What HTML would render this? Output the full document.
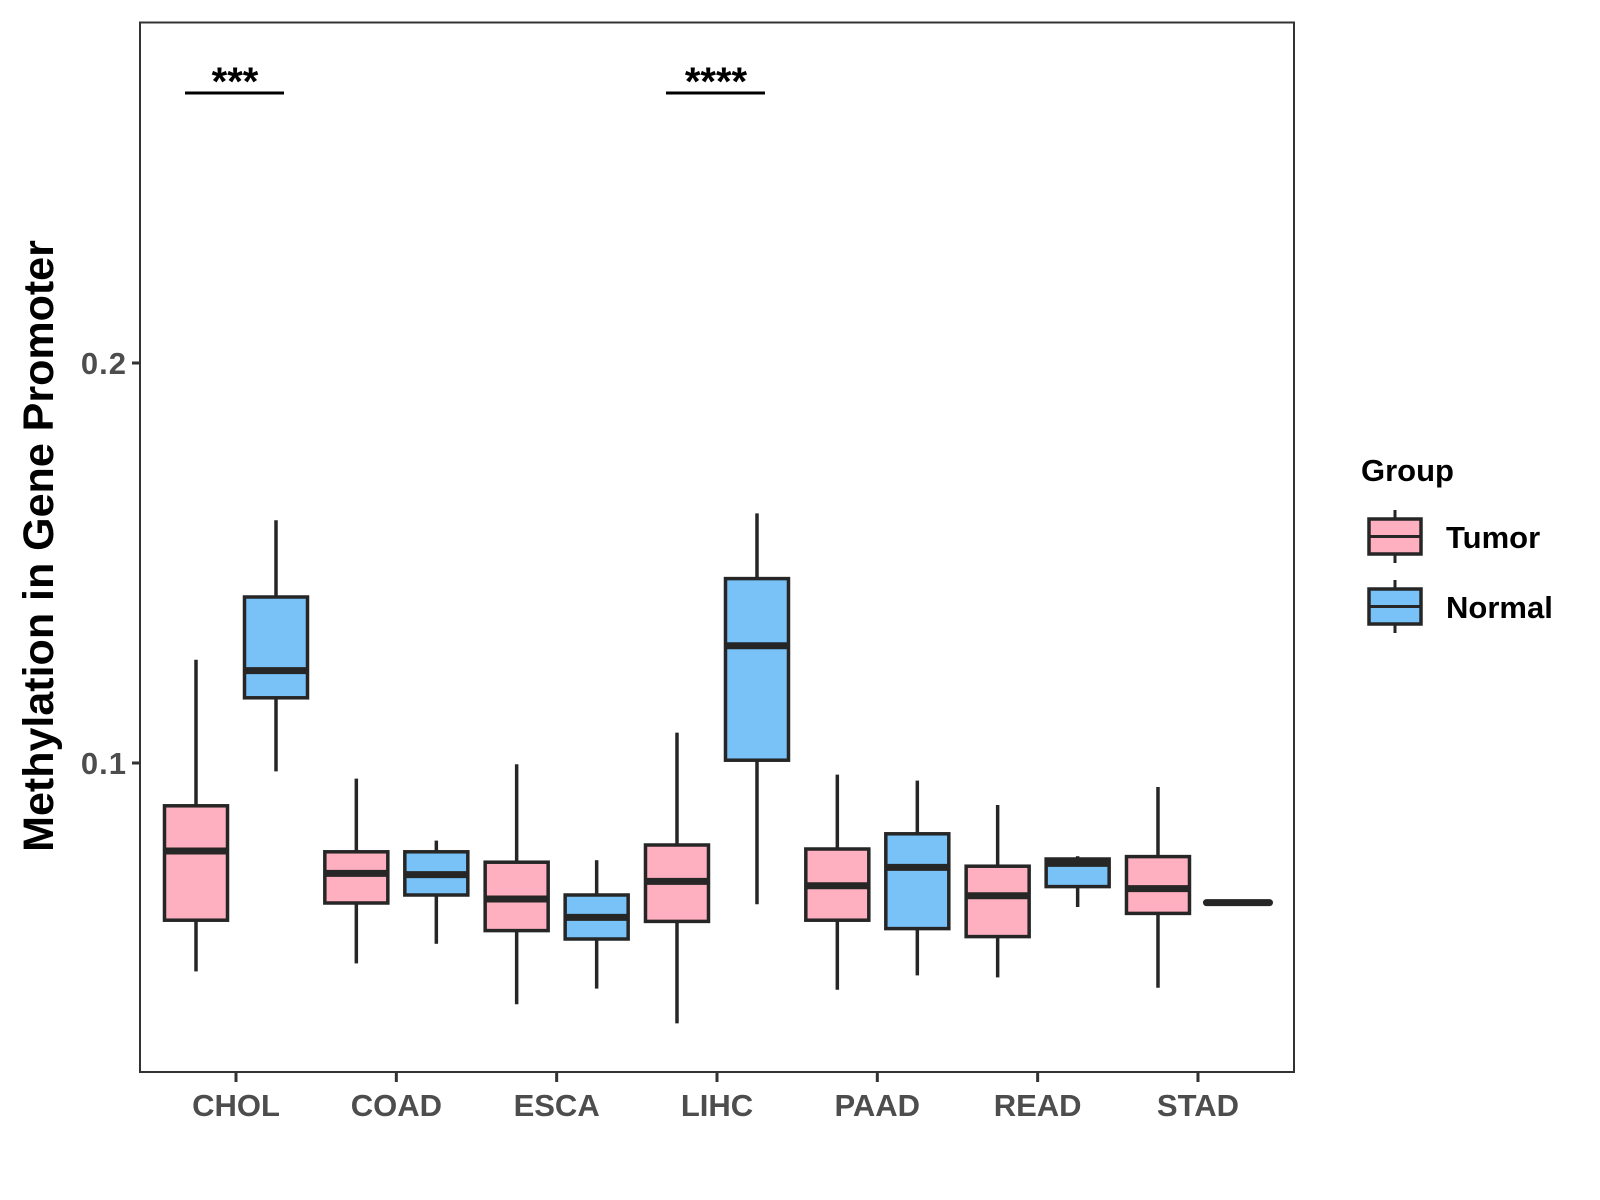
<!DOCTYPE html>
<html><head><meta charset="utf-8"><style>body{margin:0;background:#fff}svg{display:block;font-family:"Liberation Sans",Arial,sans-serif}</style></head>
<body>
<svg id="c" width="1600" height="1200" xmlns="http://www.w3.org/2000/svg">
<rect x="140" y="22.5" width="1154" height="1049.5" fill="#fff" stroke="#333" stroke-width="2"/>
<g id="marks"></g>
<text transform="translate(53,546) rotate(-90)" text-anchor="middle" font-size="43" font-weight="bold" fill="#000">Methylation in Gene Promoter</text>
<text x="1361" y="481" font-size="31" font-weight="bold" fill="#000">Group</text>
</svg>
<script>
const categories=["CHOL","COAD","ESCA","LIHC","PAAD","READ","STAD"];
const groups=["Tumor","Normal"];
const colors=["#FFB0C0","#78C2F8"];
// [low, q1, median, q3, high]
const tumorStats=[[0.0479,0.0607,0.078,0.0893,0.1258],[0.0499,0.065,0.0724,0.0778,0.0961],[0.0397,0.0581,0.066,0.0752,0.0997],[0.0349,0.0604,0.0704,0.0795,0.1076],[0.0433,0.0607,0.0693,0.0785,0.0971],[0.0464,0.0566,0.0668,0.0742,0.0895],[0.0438,0.0624,0.0686,0.0766,0.0940]];
const normalStats=[[0.0979,0.1163,0.1231,0.1415,0.1607],[0.0548,0.067,0.0721,0.0778,0.0806],[0.0436,0.056,0.0614,0.067,0.0757],[0.0647,0.1007,0.1293,0.1461,0.1624],[0.0469,0.0586,0.0739,0.0823,0.0956],[0.064,0.0691,0.0749,0.076,0.0767],[0.0651,0.0651,0.0651,0.0651,0.0651]];
const yTicks=[0.1,0.2];
const sigCats=["CHOL","LIHC"];
const sigLabels=["***","****"];
const NS="http://www.w3.org/2000/svg";
const y=v=>763-(v-0.1)*4000;
const x=i=>236+i*160.33;
const g=document.getElementById('marks');
const svg=document.getElementById('c');
function mk(t,a,p){const e=document.createElementNS(NS,t);for(const k in a)e.setAttribute(k,a[k]);(p||g).appendChild(e);return e;}
yTicks.forEach(v=>{
 const l=mk('line',{x1:132,x2:140,y1:y(v),y2:y(v),stroke:'#333','stroke-width':3});
 
 
 const t=mk('text',{x:127,y:y(v)+11,'text-anchor':'end','font-size':31,'font-weight':'bold',fill:'#4d4d4d','letter-spacing':'1'});
 t.textContent=String(v);
 
 
});
categories.forEach((c,i)=>{
 const l=mk('line',{x1:x(i),x2:x(i),y1:1072,y2:1082,stroke:'#333','stroke-width':3});
 
 
 const t=mk('text',{x:x(i),y:1116,'text-anchor':'middle','font-size':31,'font-weight':'bold',fill:'#4d4d4d'});
 t.textContent=c;
 
 
 [tumorStats,normalStats].forEach((S,gi)=>{
  const s=S[i];const cx=x(i)+(gi?40:-40);const w=63;
  const bg=mk('g',{});
  
  
  mk('line',{x1:cx,x2:cx,y1:y(s[4]),y2:y(s[3]),stroke:'#262626','stroke-width':3.5},bg);
  mk('line',{x1:cx,x2:cx,y1:y(s[1]),y2:y(s[0]),stroke:'#262626','stroke-width':3.5},bg);
  mk('rect',{x:cx-w/2,y:y(s[3]),width:w,height:Math.max(0,y(s[1])-y(s[3])),fill:colors[gi],stroke:'#262626','stroke-width':3.5},bg);
  mk('line',{x1:cx-w/2,x2:cx+w/2,y1:y(s[2]),y2:y(s[2]),stroke:'#262626','stroke-width':7,'stroke-linecap':(s[1]===s[3]?'round':'butt')},bg);
 });
});
sigCats.forEach((c,k)=>{
 const i=categories.indexOf(c);
 const l=mk('line',{x1:x(i)-51,x2:x(i)+48,y1:93,y2:93,stroke:'#000','stroke-width':3});
 
 
 const t=mk('text',{x:x(i)-1,y:95,'text-anchor':'middle','font-size':40,'font-weight':'bold',fill:'#000'});
 t.textContent=sigLabels[k];
 
 
});
groups.forEach((gname,gi)=>{
 const top=519+gi*70;
 const lg=mk('g',{},svg);
 
 
 mk('line',{x1:1395,x2:1395,y1:top-9,y2:top+44,stroke:'#262626','stroke-width':3},lg);
 mk('rect',{x:1369,y:top,width:52,height:35,fill:colors[gi],stroke:'#262626','stroke-width':3.5},lg);
 mk('line',{x1:1369,x2:1421,y1:top+17.5,y2:top+17.5,stroke:'#262626','stroke-width':3},lg);
 const t=mk('text',{x:1446,y:top+29,'font-size':31,'font-weight':'bold',fill:'#000'},lg);
 t.textContent=gname;
});
</script>
</body></html>
